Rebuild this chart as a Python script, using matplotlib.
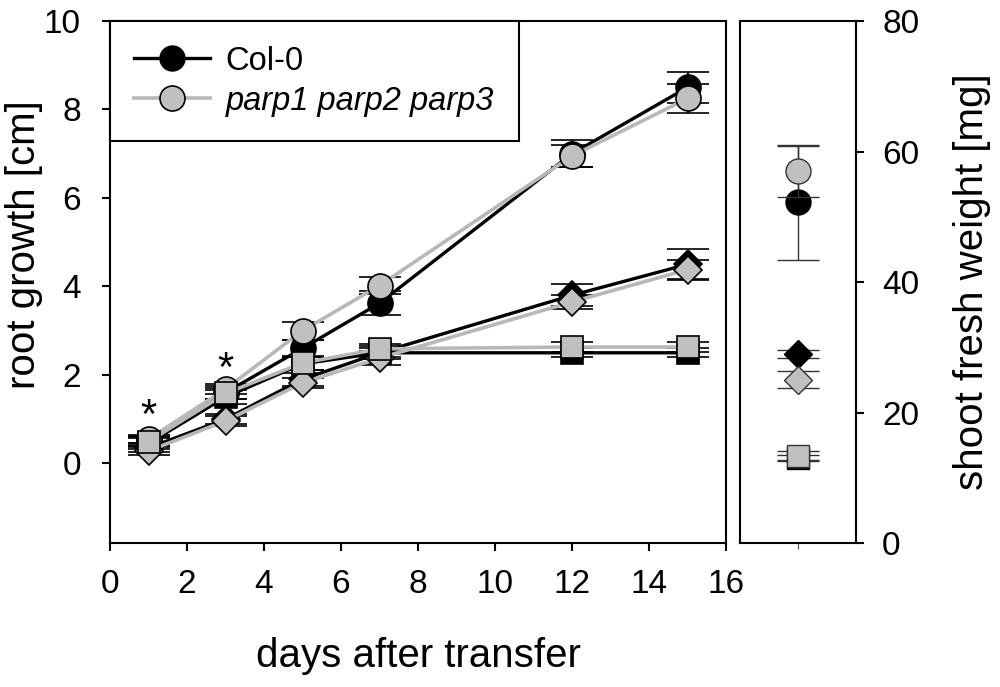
import matplotlib
matplotlib.use("Agg")
import matplotlib.pyplot as plt
from matplotlib.lines import Line2D

plt.rcParams["font.family"] = ["Liberation Sans", "DejaVu Sans"]

# root growth over time (left panel)
days = [1, 3, 5, 7, 12, 15]

col_circle = [0.52, 1.60, 2.60, 3.62, 7.00, 8.50]
col_circle_err = [0.10, 0.15, 0.20, 0.27, 0.30, 0.35]
parp_circle = [0.55, 1.68, 3.00, 4.02, 6.95, 8.25]
parp_circle_err = [0.10, 0.12, 0.20, 0.20, 0.25, 0.32]

col_diamond = [0.35, 1.00, 1.90, 2.50, 3.80, 4.50]
col_diamond_err = [0.10, 0.12, 0.15, 0.15, 0.25, 0.35]
parp_diamond = [0.28, 0.96, 1.82, 2.38, 3.65, 4.38]
parp_diamond_err = [0.10, 0.12, 0.12, 0.15, 0.15, 0.22]

col_square = [0.45, 1.50, 2.25, 2.50, 2.50, 2.50]
col_square_err = [0.12, 0.15, 0.15, 0.10, 0.10, 0.10]
parp_square = [0.49, 1.58, 2.27, 2.59, 2.63, 2.63]
parp_square_err = [0.10, 0.12, 0.15, 0.10, 0.12, 0.12]

star_days = [1, 3]
star_y = [0.6, 1.65]

# shoot fresh weight (right panel)
sfw_col = [52.2, 29.0, 13.0]
sfw_col_err = [8.8, 0.6, 0.5]
sfw_parp = [57.0, 25.0, 13.4]
sfw_parp_err = [3.9, 1.3, 0.7]

BLACK = "black"
GRAY_LINE = "#b8b8b8"
GRAY_FILL = "#c0c0c0"
MARKERS = [("o", 18), ("D", 14), ("s", 16)]
TICK_FS = 24
LABEL_FS = 29

fig = plt.figure(figsize=(10, 6.87), dpi=100)
ax = fig.add_axes([0.110, 0.2096, 0.616, 0.7598])
ax2 = fig.add_axes([0.740, 0.2096, 0.1157, 0.7598])

series = [
    (col_circle, col_circle_err, parp_circle, parp_circle_err),
    (col_diamond, col_diamond_err, parp_diamond, parp_diamond_err),
    (col_square, col_square_err, parp_square, parp_square_err),
]

for (marker, ms), (cy, cerr, py, perr) in zip(MARKERS, series):
    ax.errorbar(days, cy, yerr=cerr, color=BLACK, lw=2.4, marker=marker, ms=ms,
                mfc=BLACK, mec=BLACK, mew=1.2, ecolor=BLACK, elinewidth=1.5,
                capsize=15, capthick=2.0, zorder=3)
    ax.errorbar(days, py, yerr=perr, color=GRAY_LINE, lw=2.6, marker=marker, ms=ms,
                mfc=GRAY_FILL, mec=BLACK, mew=1.2, ecolor=BLACK, elinewidth=1.5,
                capsize=15, capthick=2.0, zorder=4)

for d, y in zip(star_days, star_y):
    ax.text(d, y, "*", ha="center", va="bottom", fontsize=30, zorder=5)

ax.set_xlim(0, 16)
ax.set_ylim(-1.8, 10)
ax.set_xticks(range(0, 17, 2))
ax.set_yticks(range(0, 11, 2))
ax.tick_params(direction="out", length=6, width=1.5, labelsize=TICK_FS, pad=13)
ax.tick_params(axis="y", pad=15)
for s in ax.spines.values():
    s.set_linewidth(1.5)
ax.set_ylabel("root growth [cm]", fontsize=LABEL_FS)
ax.yaxis.set_label_coords(-0.108, 0.571)
ax.set_xlabel("days after transfer", fontsize=LABEL_FS, labelpad=26)

handles = [
    Line2D([], [], color=BLACK, lw=2.4, marker="o", ms=18, mfc=BLACK, mec=BLACK),
    Line2D([], [], color=GRAY_LINE, lw=2.6, marker="o", ms=18, mfc=GRAY_FILL, mec=BLACK, mew=1.2),
]
leg = ax.legend(handles, ["Col-0", "parp1 parp2 parp3"], loc="upper left",
                bbox_to_anchor=(0, 1), borderaxespad=0, fontsize=23.5,
                handlelength=2.3, handletextpad=0.5, labelspacing=0.28,
                borderpad=0.75, fancybox=False, framealpha=1)
leg.get_frame().set_edgecolor(BLACK)
leg.get_frame().set_linewidth(1.5)
leg.get_texts()[1].set_style("italic")

# right panel
for (marker, ms), cy, cerr, py, perr in zip(MARKERS, sfw_col, sfw_col_err, sfw_parp, sfw_parp_err):
    ax2.errorbar([1], [cy], yerr=[cerr], color=BLACK, marker=marker, ms=ms,
                 mfc=BLACK, mec=BLACK, mew=1.0, ecolor="#333333", elinewidth=1.0,
                 capsize=15, capthick=1.0, ls="none", zorder=3)
    ax2.errorbar([1], [py], yerr=[perr], color=BLACK, marker=marker, ms=ms,
                 mfc=GRAY_FILL, mec="#333333", mew=1.0, ecolor="#333333", elinewidth=1.0,
                 capsize=15, capthick=1.0, ls="none", zorder=4)

ax2.set_xlim(0, 2)
ax2.set_ylim(0, 80)
ax2.set_xticks([1])
ax2.set_xticklabels([""])
ax2.tick_params(axis="x", direction="out", length=4, width=0.8, color="#555555")
ax2.yaxis.tick_right()
ax2.yaxis.set_label_position("right")
ax2.set_yticks(range(0, 81, 20))
ax2.tick_params(axis="y", direction="out", length=6, width=1.5, labelsize=TICK_FS, pad=13)
for s in ax2.spines.values():
    s.set_linewidth(1.5)
ax2.set_ylabel("shoot fresh weight [mg]", fontsize=LABEL_FS)
ax2.yaxis.set_label_coords(1.84, 0.5)

fig.savefig("out.png", dpi=100)
